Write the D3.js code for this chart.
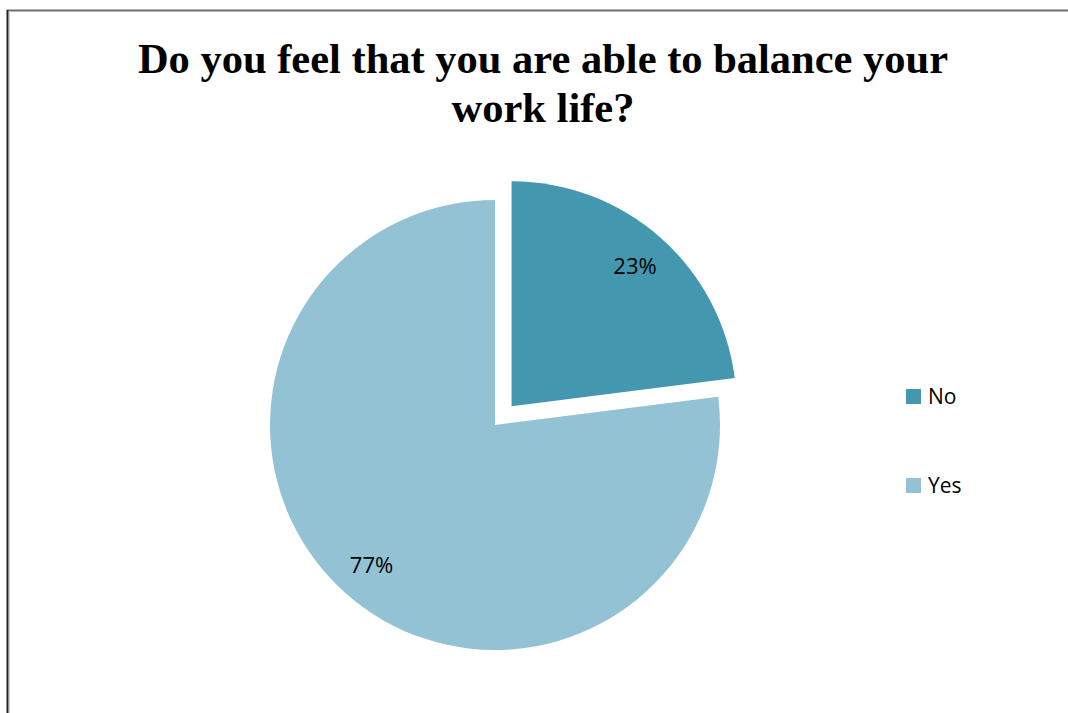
<!DOCTYPE html>
<html>
<head>
<meta charset="utf-8">
<script src="https://cdn.jsdelivr.net/npm/d3@7"></script>
<style>
  html, body { margin: 0; padding: 0; background: #fff; }
  svg { display: block; }
</style>
</head>
<body>
<svg id="chart" width="1068" height="713"></svg>
<script>
// Survey answers: share of respondents
const categories = ["No", "Yes"];
const values = [23, 77];
const colors = ["#4398B0", "#93C2D4"];
const titleLines = ["Do you feel that you are able to balance your", "work life?"];

const svg = d3.select("#chart");
const W = 1068, H = 713;

// Frame of the chart area
svg.append("line").attr("x1", 7).attr("x2", W).attr("y1", 10.5).attr("y2", 10.5)
  .attr("stroke", "#6e6e6e").attr("stroke-width", 2);
svg.append("line").attr("x1", 7.5).attr("x2", 7.5).attr("y1", 10).attr("y2", H)
  .attr("stroke", "#222").attr("stroke-width", 2);
svg.append("line").attr("x1", 9.5).attr("x2", 9.5).attr("y1", 11).attr("y2", H)
  .attr("stroke", "#d0d0d0").attr("stroke-width", 1);

// Title
const title = svg.append("text")
  .attr("text-anchor", "middle")
  .attr("font-family", "'Liberation Serif', 'Times New Roman', serif")
  .attr("font-weight", "bold")
  .attr("font-size", 42.5)
  .attr("fill", "#000");
titleLines.forEach((t, i) => {
  title.append("tspan").attr("x", 543).attr("y", 73 + i * 49).text(t);
});

// Pie
const cx = 495, cy = 425, r = 225, explode = 25;
const pie = d3.pie().sort(null).value(d => d)(values);
const arc = d3.arc().innerRadius(0).outerRadius(r);
const labelArc = d3.arc().innerRadius(r * 0.83).outerRadius(r * 0.83);

const g = svg.append("g").attr("transform", `translate(${cx},${cy})`);
const slices = g.selectAll("g.slice").data(pie).enter().append("g")
  .attr("class", "slice")
  .attr("transform", (d, i) => {
    if (i !== 0) return null;
    const a = (d.startAngle + d.endAngle) / 2;
    return `translate(${Math.sin(a) * explode},${-Math.cos(a) * explode})`;
  });

slices.append("path")
  .attr("d", arc)
  .attr("fill", (d, i) => colors[i]);

slices.append("text")
  .attr("transform", d => {
    const [x, y] = labelArc.centroid(d);
    return `translate(${x},${y})`;
  })
  .attr("text-anchor", "middle")
  .attr("dy", "0.35em")
  .attr("font-family", "'Open Sans', 'Noto Sans', sans-serif")
  .attr("font-size", 22)
  .attr("fill", "#000")
  .text(d => d.data + "%");

// Legend
const legend = svg.append("g").attr("transform", "translate(906,389)");
const items = legend.selectAll("g").data(categories).enter().append("g")
  .attr("transform", (d, i) => `translate(0,${i * 89})`);
items.append("rect").attr("width", 15).attr("height", 15)
  .attr("fill", (d, i) => colors[i]);
items.append("text").attr("x", 22).attr("y", 15)
  .attr("font-family", "'Open Sans', 'Noto Sans', sans-serif")
  .attr("font-size", 21)
  .attr("fill", "#000")
  .text(d => d);
</script>
</body>
</html>
